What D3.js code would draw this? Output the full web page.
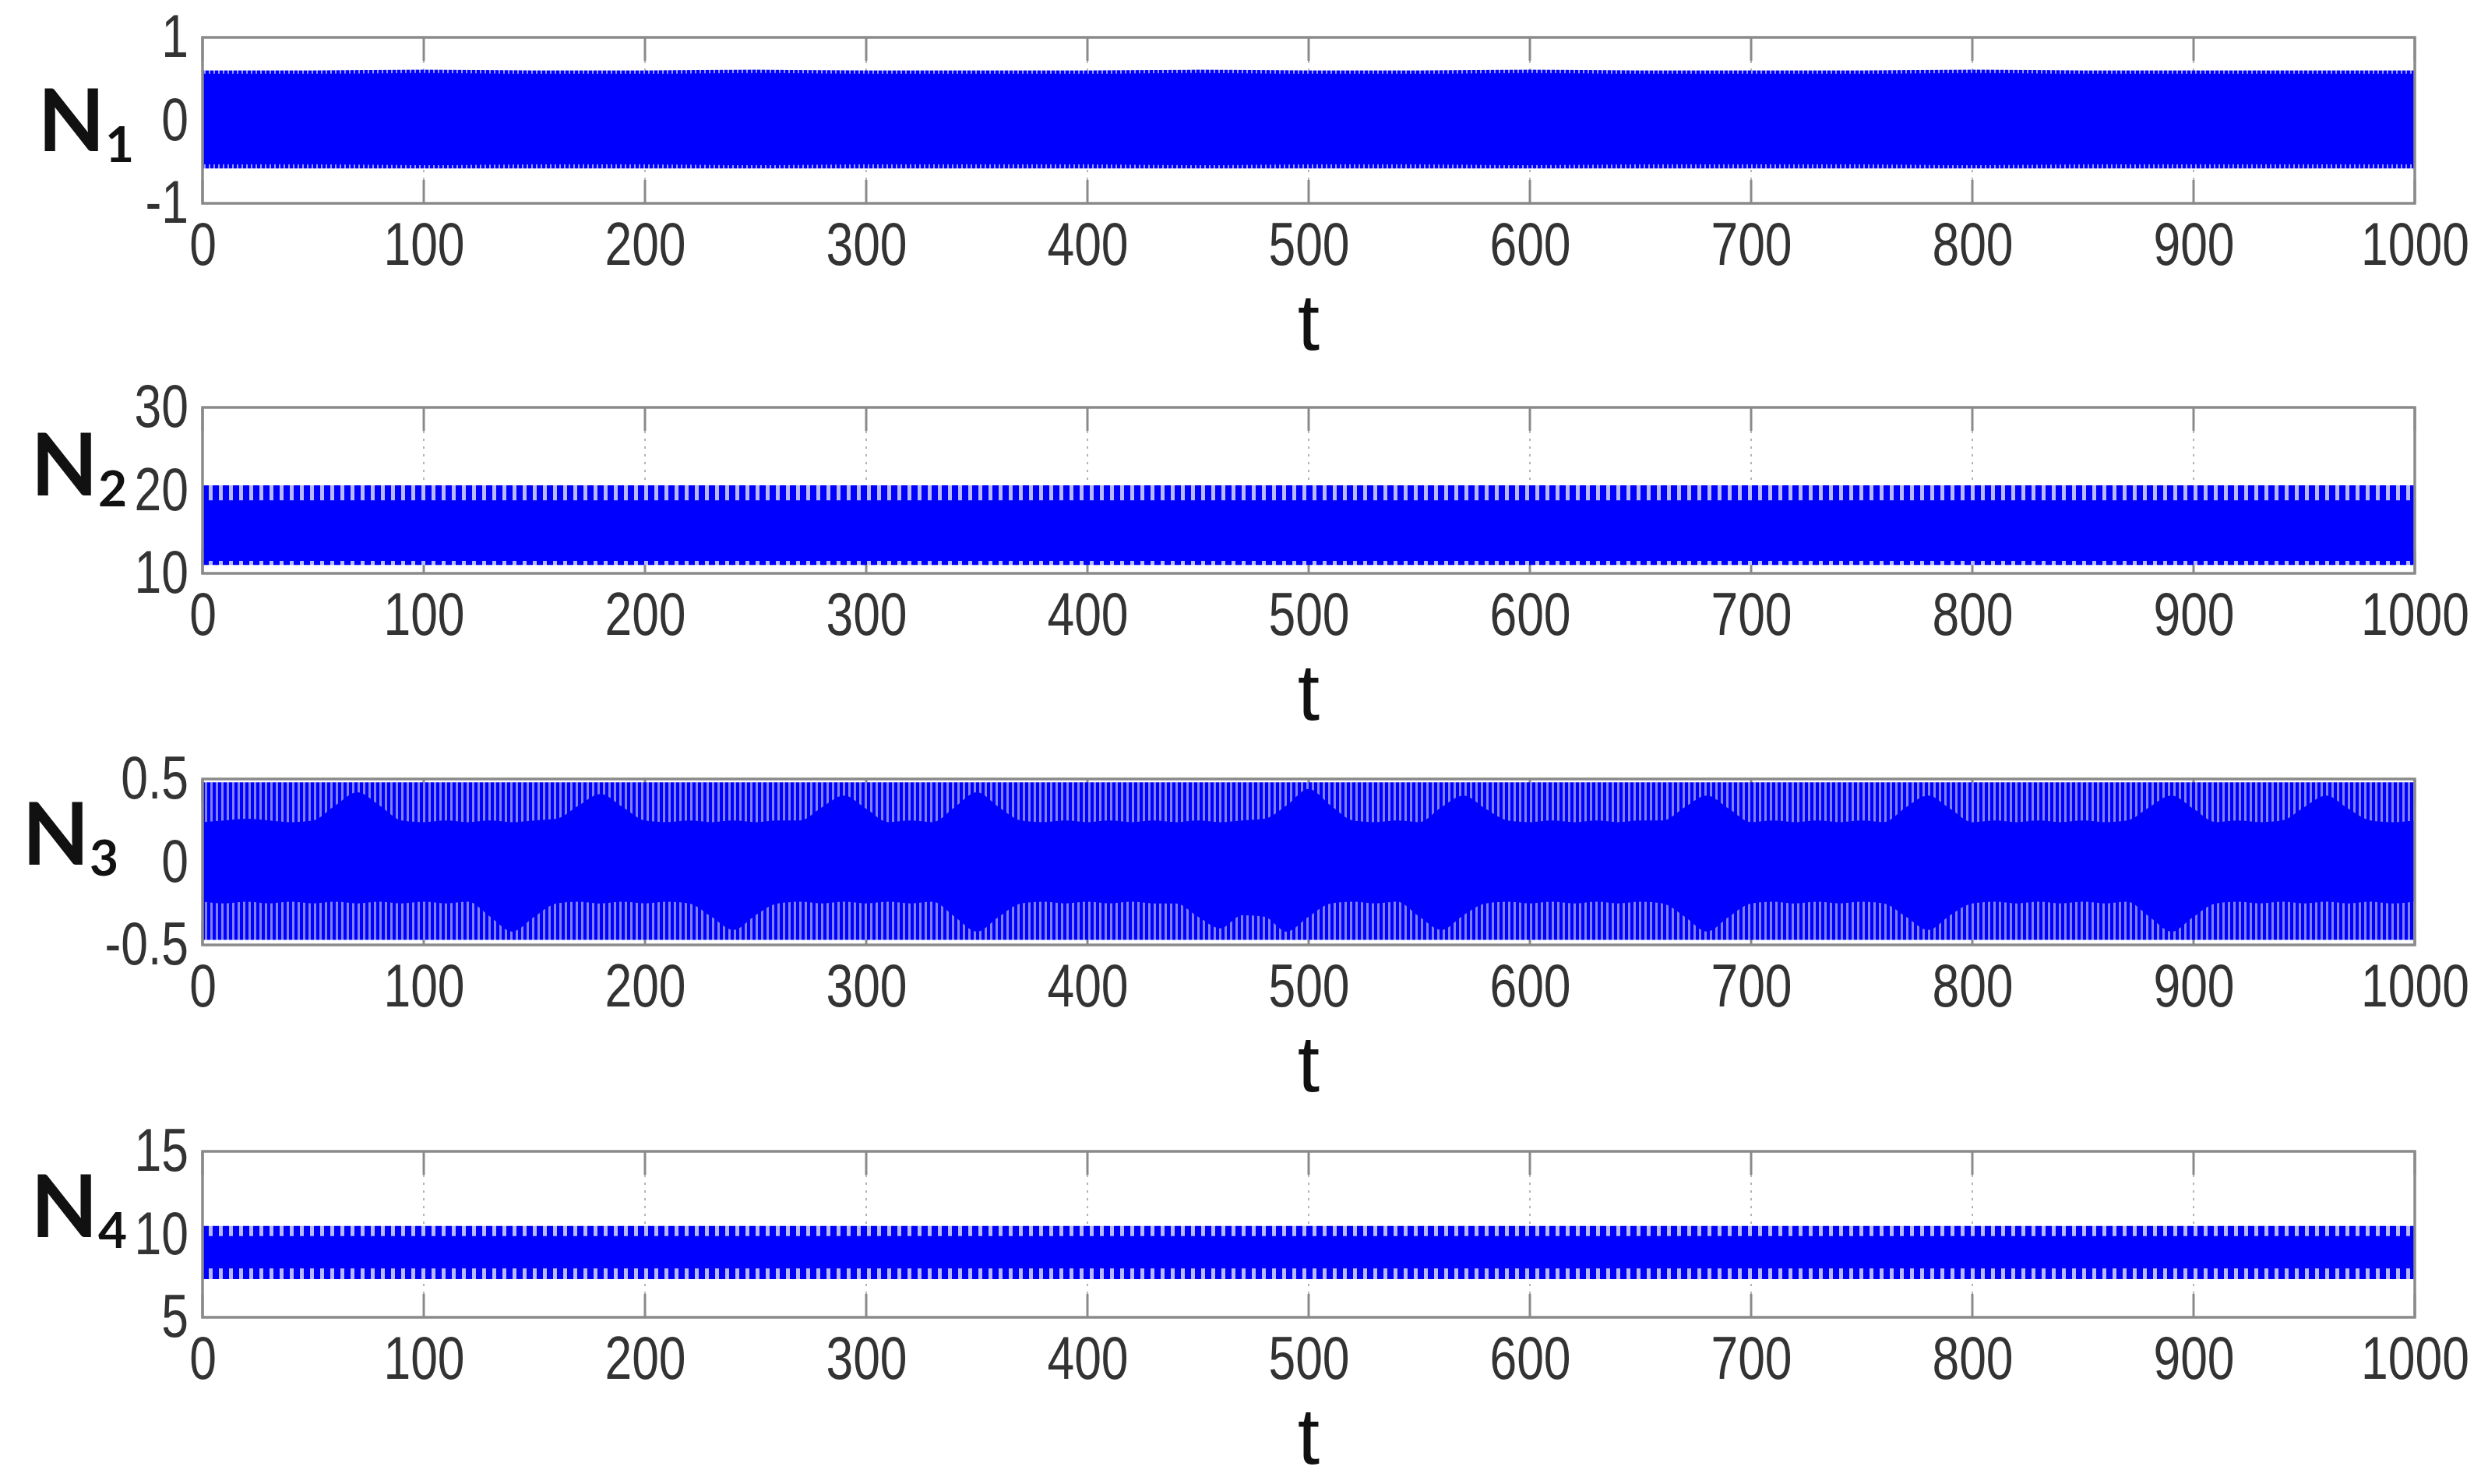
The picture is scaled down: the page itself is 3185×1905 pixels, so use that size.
<!DOCTYPE html>
<html><head><meta charset="utf-8">
<script src="https://cdn.jsdelivr.net/npm/d3@7"></script>
<style>html,body{margin:0;padding:0;background:#fff;overflow:hidden}</style>
</head><body>
<svg id="chart" width="3185" height="1905" xmlns="http://www.w3.org/2000/svg"></svg>
<script>
// ---------------- data ----------------
const xTicks = [0, 100, 200, 300, 400, 500, 600, 700, 800, 900, 1000];
const seriesSubs = ["1", "2", "3", "4"];
const yDomains = [[-1, 1], [10, 30], [-0.5, 0.5], [5, 15]];
const yTickValues = [[-1, 0, 1], [10, 20, 30], [-0.5, 0, 0.5], [5, 10, 15]];
const yTickLabels = [["-1", "0", "1"], ["10", "20", "30"], ["-0.5", "0", "0.5"], ["5", "10", "15"]];

// envelope samples, t = 0, 50, ..., 1000
const tCoarse = [0,50,100,150,200,250,300,350,400,450,500,550,600,650,700,750,800,850,900,950,1000];
const n1OuterMax = [0.60,0.60,0.61,0.60,0.60,0.61,0.60,0.60,0.60,0.61,0.60,0.60,0.61,0.60,0.60,0.60,0.61,0.60,0.60,0.60,0.60];
const n1CoreMax  = [0.56,0.56,0.57,0.56,0.56,0.57,0.56,0.56,0.56,0.57,0.56,0.56,0.57,0.56,0.56,0.56,0.57,0.56,0.56,0.56,0.56];
const n1CoreMin  = [-0.53,-0.53,-0.54,-0.53,-0.53,-0.54,-0.53,-0.53,-0.53,-0.54,-0.53,-0.53,-0.54,-0.53,-0.53,-0.53,-0.54,-0.53,-0.53,-0.53,-0.53];
const n1OuterMin = [-0.58,-0.58,-0.58,-0.58,-0.58,-0.58,-0.58,-0.58,-0.58,-0.58,-0.58,-0.58,-0.58,-0.58,-0.58,-0.58,-0.58,-0.58,-0.58,-0.58,-0.58];

const n2OuterMax = [20.6,20.6,20.6,20.6,20.6,20.6,20.6,20.6,20.6,20.6,20.6,20.6,20.6,20.6,20.6,20.6,20.6,20.6,20.6,20.6,20.6];
const n2CoreMax  = [18.8,18.8,18.8,18.8,18.8,18.8,18.8,18.8,18.8,18.8,18.8,18.8,18.8,18.8,18.8,18.8,18.8,18.8,18.8,18.8,18.8];
const n2CoreMin  = [11.5,11.5,11.5,11.5,11.5,11.5,11.5,11.5,11.5,11.5,11.5,11.5,11.5,11.5,11.5,11.5,11.5,11.5,11.5,11.5,11.5];
const n2OuterMin = [11.0,11.0,11.0,11.0,11.0,11.0,11.0,11.0,11.0,11.0,11.0,11.0,11.0,11.0,11.0,11.0,11.0,11.0,11.0,11.0,11.0];

const n4OuterMax = [10.5,10.5,10.5,10.5,10.5,10.5,10.5,10.5,10.5,10.5,10.5,10.5,10.5,10.5,10.5,10.5,10.5,10.5,10.5,10.5,10.5];
const n4CoreMax  = [9.9,9.9,9.9,9.9,9.9,9.9,9.9,9.9,9.9,9.9,9.9,9.9,9.9,9.9,9.9,9.9,9.9,9.9,9.9,9.9,9.9];
const n4CoreMin  = [7.95,7.95,7.95,7.95,7.95,7.95,7.95,7.95,7.95,7.95,7.95,7.95,7.95,7.95,7.95,7.95,7.95,7.95,7.95,7.95,7.95];
const n4OuterMin = [7.3,7.3,7.3,7.3,7.3,7.3,7.3,7.3,7.3,7.3,7.3,7.3,7.3,7.3,7.3,7.3,7.3,7.3,7.3,7.3,7.3];

// N3 envelope samples, t = 0, 10, ..., 1000
const tFine = d3.range(0, 1001, 10);
const n3OuterMax = [0.48,0.48,0.48,0.48,0.48,0.48,0.48,0.48,0.48,0.48,0.48,0.48,0.48,0.48,0.48,0.48,0.48,0.48,0.48,0.48,0.48,0.48,0.48,0.48,0.48,0.48,0.48,0.48,0.48,0.48,0.48,0.48,0.48,0.48,0.48,0.48,0.48,0.48,0.48,0.48,0.48,0.48,0.48,0.48,0.48,0.48,0.48,0.48,0.48,0.48,0.48,0.48,0.48,0.48,0.48,0.48,0.48,0.48,0.48,0.48,0.48,0.48,0.48,0.48,0.48,0.48,0.48,0.48,0.48,0.48,0.48,0.48,0.48,0.48,0.48,0.48,0.48,0.48,0.48,0.48,0.48,0.48,0.48,0.48,0.48,0.48,0.48,0.48,0.48,0.48,0.48,0.48,0.48,0.48,0.48,0.48,0.48,0.48,0.48,0.48,0.48];
const n3OuterMin = [-0.47,-0.47,-0.47,-0.47,-0.47,-0.47,-0.47,-0.47,-0.47,-0.47,-0.47,-0.47,-0.47,-0.47,-0.47,-0.47,-0.47,-0.47,-0.47,-0.47,-0.47,-0.47,-0.47,-0.47,-0.47,-0.47,-0.47,-0.47,-0.47,-0.47,-0.47,-0.47,-0.47,-0.47,-0.47,-0.47,-0.47,-0.47,-0.47,-0.47,-0.47,-0.47,-0.47,-0.47,-0.47,-0.47,-0.47,-0.47,-0.47,-0.47,-0.47,-0.47,-0.47,-0.47,-0.47,-0.47,-0.47,-0.47,-0.47,-0.47,-0.47,-0.47,-0.47,-0.47,-0.47,-0.47,-0.47,-0.47,-0.47,-0.47,-0.47,-0.47,-0.47,-0.47,-0.47,-0.47,-0.47,-0.47,-0.47,-0.47,-0.47,-0.47,-0.47,-0.47,-0.47,-0.47,-0.47,-0.47,-0.47,-0.47,-0.47,-0.47,-0.47,-0.47,-0.47,-0.47,-0.47,-0.47,-0.47,-0.47,-0.47];
const n3CoreMax = [0.24,0.25,0.26,0.25,0.24,0.25,0.34,0.42,0.34,0.25,0.24,0.25,0.24,0.25,0.24,0.25,0.26,0.34,0.41,0.33,0.25,0.24,0.25,0.24,0.25,0.24,0.25,0.25,0.33,0.40,0.32,0.24,0.25,0.24,0.33,0.42,0.33,0.25,0.24,0.25,0.24,0.25,0.24,0.25,0.24,0.25,0.24,0.25,0.26,0.34,0.44,0.34,0.25,0.24,0.25,0.24,0.33,0.40,0.32,0.25,0.24,0.25,0.24,0.25,0.24,0.25,0.25,0.33,0.40,0.32,0.24,0.25,0.24,0.25,0.24,0.25,0.24,0.33,0.40,0.32,0.24,0.25,0.24,0.25,0.24,0.25,0.24,0.25,0.33,0.40,0.32,0.24,0.25,0.24,0.25,0.33,0.40,0.32,0.25,0.24,0.25];
const n3CoreMin = [-0.24,-0.25,-0.24,-0.25,-0.24,-0.25,-0.24,-0.25,-0.24,-0.25,-0.24,-0.25,-0.24,-0.33,-0.42,-0.33,-0.25,-0.24,-0.25,-0.24,-0.25,-0.24,-0.25,-0.33,-0.41,-0.32,-0.25,-0.24,-0.25,-0.24,-0.25,-0.24,-0.25,-0.24,-0.33,-0.42,-0.33,-0.25,-0.24,-0.25,-0.24,-0.25,-0.24,-0.25,-0.25,-0.33,-0.40,-0.32,-0.33,-0.42,-0.33,-0.25,-0.24,-0.25,-0.24,-0.33,-0.41,-0.32,-0.25,-0.24,-0.25,-0.24,-0.25,-0.24,-0.25,-0.24,-0.25,-0.33,-0.42,-0.33,-0.25,-0.24,-0.25,-0.24,-0.25,-0.24,-0.25,-0.33,-0.41,-0.32,-0.25,-0.24,-0.25,-0.24,-0.25,-0.24,-0.25,-0.24,-0.33,-0.42,-0.33,-0.25,-0.24,-0.25,-0.24,-0.25,-0.24,-0.25,-0.24,-0.25,-0.24];

// ---------------- layout ----------------
const L = {
  left: 260, right: 3100, height: 213,
  tops: [48, 523, 1000, 1478],
  nameBaseline: [194, 636, 1110, 1588],
  nameRight: [172, 163, 152, 163],
  tickFont: 78, tickScaleX: 0.80
};

const series = [
  { t: tCoarse, outerMax: n1OuterMax, outerMin: n1OuterMin, coreMax: n1CoreMax, coreMin: n1CoreMin, fringe: "fringeThin" },
  { t: tCoarse, outerMax: n2OuterMax, outerMin: n2OuterMin, coreMax: n2CoreMax, coreMin: n2CoreMin, fringe: "fringeNotch" },
  { t: tFine,   outerMax: n3OuterMax, outerMin: n3OuterMin, coreMax: n3CoreMax, coreMin: n3CoreMin, fringe: "fringeWide" },
  { t: tCoarse, outerMax: n4OuterMax, outerMin: n4OuterMin, coreMax: n4CoreMax, coreMin: n4CoreMin, fringe: "fringeNotch" }
];

const svg = d3.select("#chart");
svg.append("rect").attr("width", 3185).attr("height", 1905).attr("fill", "#fff");

// fringe patterns (texture of the dense oscillation near the envelope)
const defs = svg.append("defs");
function stripePattern(id, w, blueW, light) {
  const p = defs.append("pattern").attr("id", id).attr("patternUnits", "userSpaceOnUse")
    .attr("width", w).attr("height", 40);
  p.append("rect").attr("width", w).attr("height", 40).attr("fill", light);
  p.append("rect").attr("width", blueW).attr("height", 40).attr("fill", "#0000ff");
}
stripePattern("fringeThin", 6, 4, "#9a9aff");
stripePattern("fringeNotch", 13, 8, "#b8b8ff");
stripePattern("fringeWide", 7, 4, "#8080ff");

const x = d3.scaleLinear().domain([0, 1000]).range([L.left, L.right]);
const gray = "#8a8a8a";

series.forEach((s, i) => {
  const top = L.tops[i];
  const g = svg.append("g").attr("transform", `translate(0,${top})`);
  const y = d3.scaleLinear().domain(yDomains[i]).range([L.height, 0]);

  // dotted grid
  g.selectAll("line.grid").data(xTicks.slice(1, -1)).join("line")
    .attr("x1", d => x(d)).attr("x2", d => x(d)).attr("y1", 0).attr("y2", L.height)
    .attr("stroke", "#b5b5b5").attr("stroke-width", 2).attr("stroke-dasharray", "3,7");

  // tick marks (inside, top & bottom)
  const tl = 30;
  g.selectAll("line.tb").data(xTicks).join("line")
    .attr("x1", d => x(d)).attr("x2", d => x(d)).attr("y1", 0).attr("y2", tl)
    .attr("stroke", gray).attr("stroke-width", 3);
  g.selectAll("line.tt").data(xTicks).join("line")
    .attr("x1", d => x(d)).attr("x2", d => x(d)).attr("y1", L.height).attr("y2", L.height - tl)
    .attr("stroke", gray).attr("stroke-width", 3);

  // data envelopes
  const pts = s.t.map((t, k) => ({ t, oMax: s.outerMax[k], oMin: s.outerMin[k], cMax: s.coreMax[k], cMin: s.coreMin[k] }));
  const outer = d3.area().x(d => x(d.t)).y0(d => y(d.oMin)).y1(d => y(d.oMax));
  const core = d3.area().curve(d3.curveMonotoneX).x(d => x(d.t)).y0(d => y(d.cMin)).y1(d => y(d.cMax));
  g.append("path").datum(pts).attr("d", outer).attr("fill", `url(#${s.fringe})`);
  g.append("path").datum(pts).attr("d", core).attr("fill", "#0000ff");

  // frame
  g.append("rect").attr("x", L.left).attr("y", 0).attr("width", L.right - L.left).attr("height", L.height)
    .attr("fill", "none").attr("stroke", gray).attr("stroke-width", 3.5);

  // x axis labels
  const xa = g.append("g").attr("transform", `translate(0,${L.height})`)
    .call(d3.axisBottom(x).tickValues(xTicks).tickFormat(d3.format("d")).tickSize(0).tickPadding(24));
  // y axis labels
  const ya = g.append("g").attr("transform", `translate(${L.left},0)`)
    .call(d3.axisLeft(y).tickValues(yTickValues[i]).tickFormat((d, j) => yTickLabels[i][j]).tickSize(0).tickPadding(18));
  [xa, ya].forEach(ax => {
    ax.select(".domain").remove();
    ax.selectAll("text")
      .attr("font-family", "'Liberation Sans', Arial, sans-serif")
      .attr("font-size", L.tickFont).attr("fill", "#333")
      .each(function () {
        const t = d3.select(this);
        const tx = +t.attr("x") || 0;
        t.attr("x", 0).attr("transform", `translate(${tx},0) scale(${L.tickScaleX},1)`);
      });
  });

  // axis title
  svg.append("text").attr("x", (L.left + L.right) / 2).attr("y", top + L.height + 188)
    .attr("text-anchor", "middle").attr("font-family", "'Liberation Sans', Arial, sans-serif")
    .attr("font-size", 102).attr("fill", "#111").text("t");

  // series name N_i
  const nm = svg.append("text").attr("x", L.nameRight[i]).attr("y", L.nameBaseline[i])
    .attr("text-anchor", "end").attr("font-family", "Lato, 'Open Sans', sans-serif")
    .attr("font-weight", "bold").attr("fill", "#111");
  nm.append("tspan").attr("font-size", 112).text("N");
  nm.append("tspan").attr("font-size", 64).attr("dy", 14).text(seriesSubs[i]);
});
</script>
</body></html>
